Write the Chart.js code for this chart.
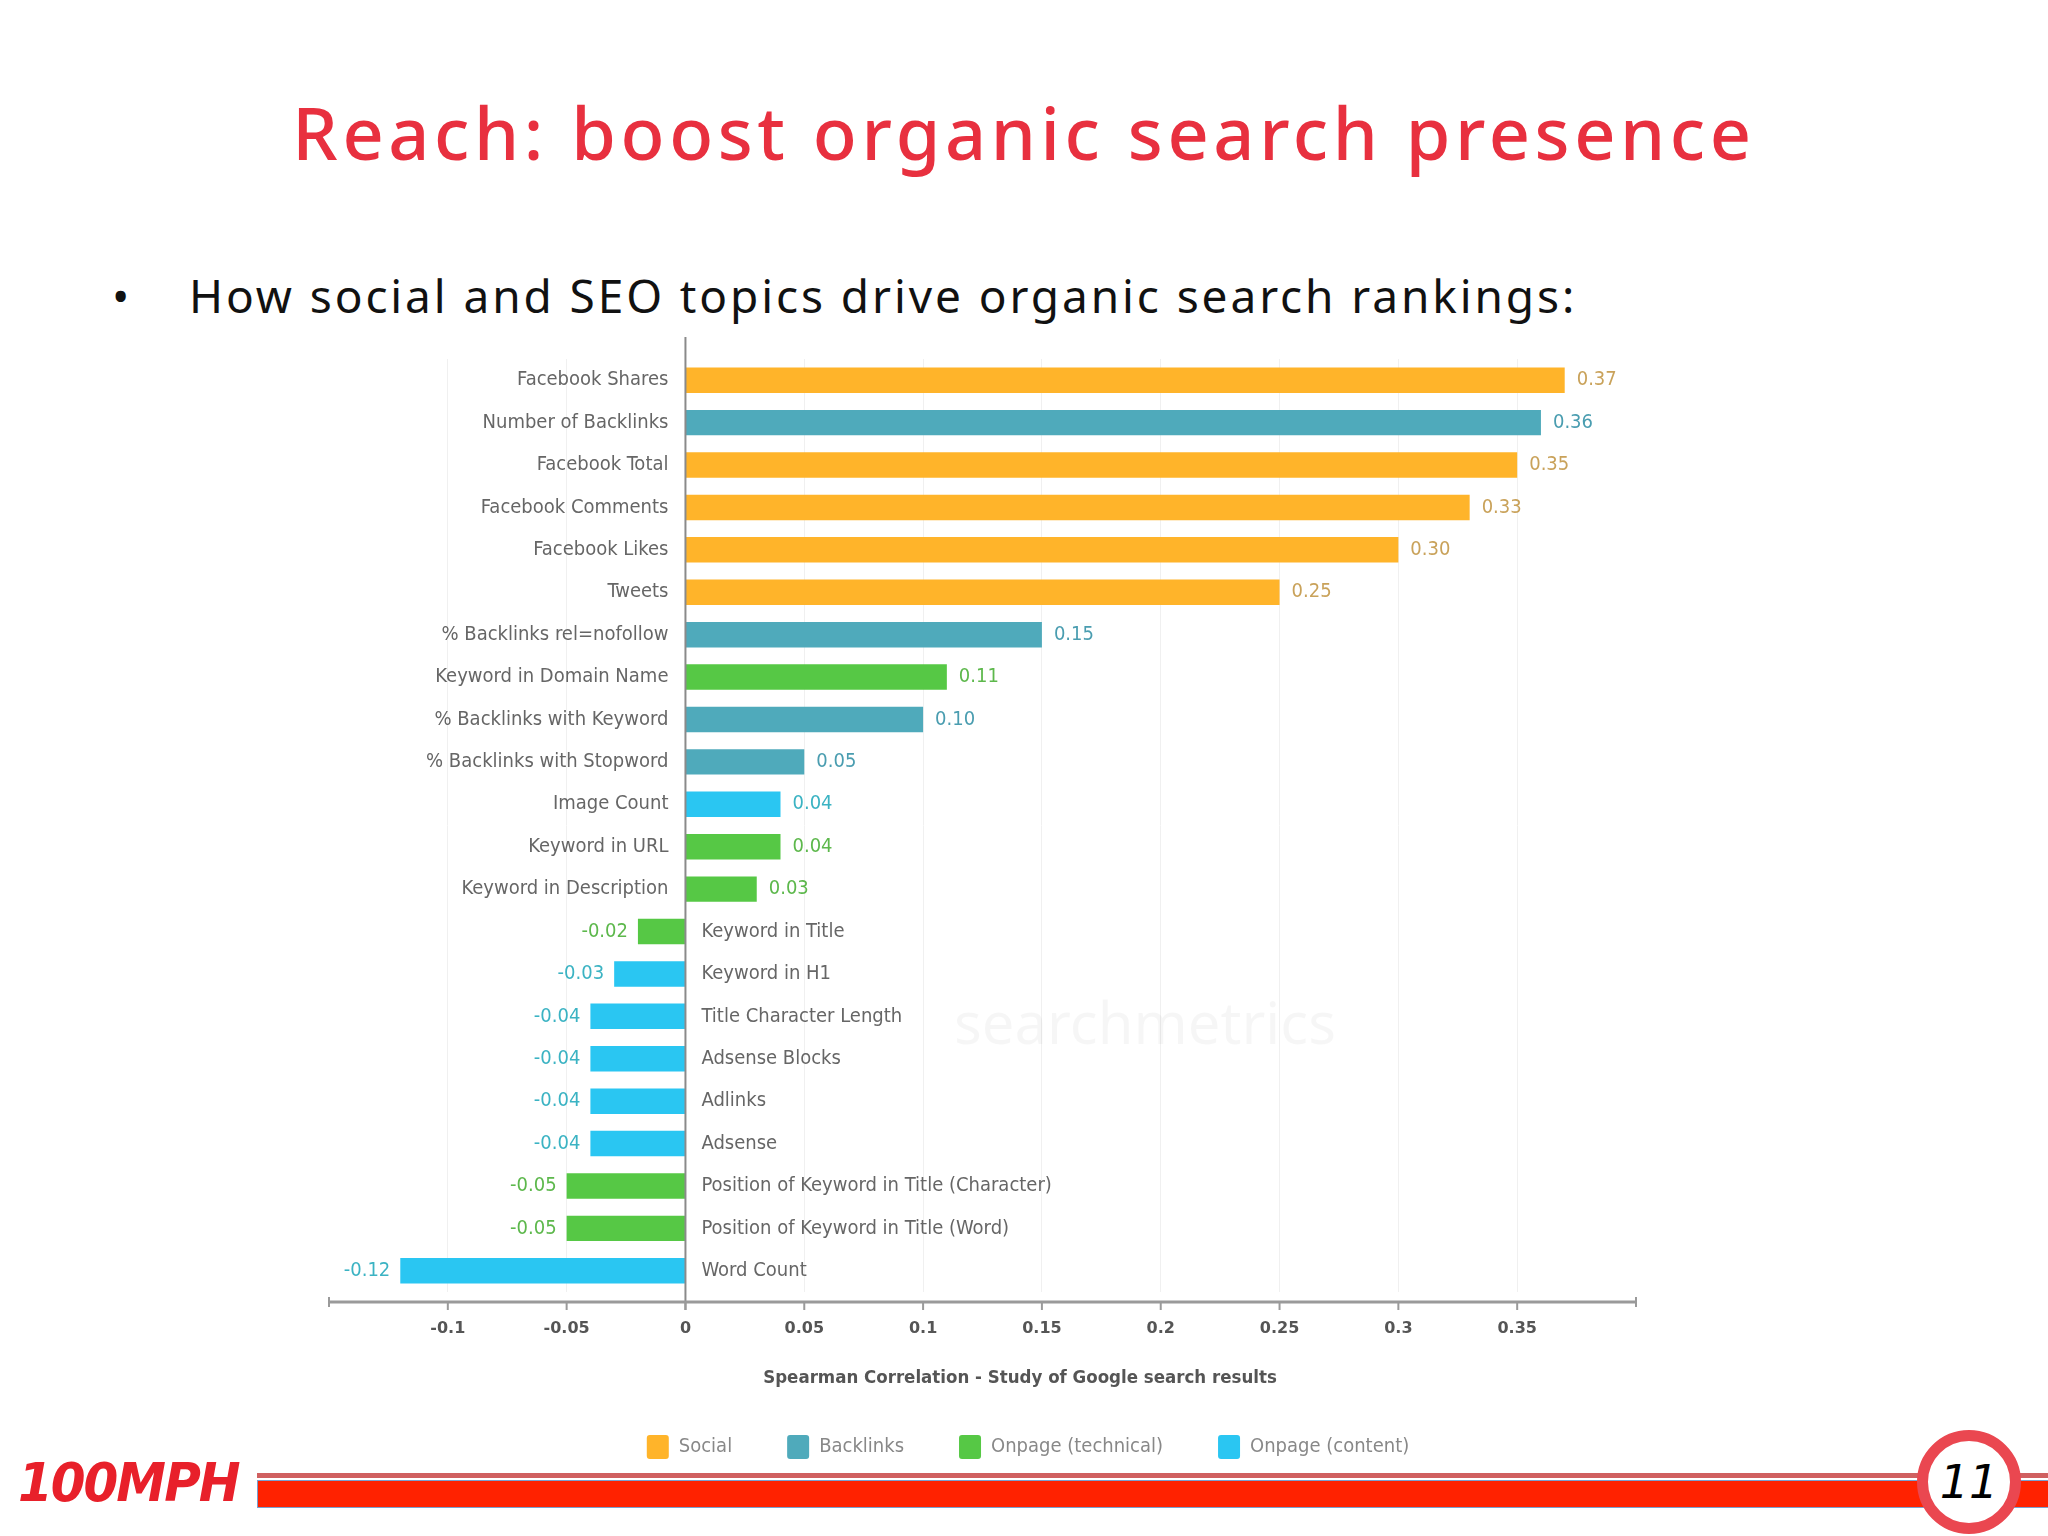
<!DOCTYPE html>
<html>
<head>
<meta charset="utf-8">
<script src="https://cdn.jsdelivr.net/npm/chart.js@4.4.0/dist/chart.umd.min.js"></script>
<style>
  body { margin:0; width:2048px; height:1536px; background:#fff; position:relative; overflow:hidden; font-family:"Noto Sans", sans-serif; }
  #title { position:absolute; left:0; top:96px; width:2048px; text-align:center; color:#E8303F; font-size:72px; line-height:1; font-weight:500; letter-spacing:4.6px; }
  #bullet { position:absolute; left:112px; top:272px; font-size:46px; line-height:1; color:#111; letter-spacing:2.9px; }
  #bullet span { display:inline-block; width:77px; }
  #chartbox { position:absolute; left:0; top:330px; width:2048px; height:1160px; }
  #logo { position:absolute; left:18px; top:1458px; font-family:"DejaVu Sans"; font-weight:bold; font-style:italic; font-size:50px; line-height:1; color:#E8202A; letter-spacing:-2px; transform:scaleY(1.05); }
  #line1 { position:absolute; left:257px; top:1473px; width:1791px; height:5px; background:#D06060; }
  #line2 { position:absolute; left:257px; top:1480px; width:1791px; height:28px; background:#FF2200; border:1px solid #7AA0D0; border-right:none; box-sizing:border-box; }
  #page { position:absolute; left:1917px; top:1430px; width:104px; height:104px; border-radius:50%; background:#fff; border:11px solid #EA4750; box-sizing:border-box; text-align:center; font-family:"DejaVu Sans"; font-style:italic; font-size:46px; line-height:82px; color:#000; }
</style>
</head>
<body>
<div id="title">Reach: boost organic search presence</div>
<div id="bullet"><span>•</span>How social and SEO topics drive organic search rankings:</div>
<div id="chartbox"><canvas id="chart" width="2048" height="1160"></canvas></div>
<div id="logo">100MPH</div>
<div id="line1"></div>
<div id="line2"></div>
<div id="page">11</div>

<script>
  // chart data
  var categories = [
    "Facebook Shares", "Number of Backlinks", "Facebook Total", "Facebook Comments",
    "Facebook Likes", "Tweets", "% Backlinks rel=nofollow", "Keyword in Domain Name",
    "% Backlinks with Keyword", "% Backlinks with Stopword", "Image Count", "Keyword in URL",
    "Keyword in Description", "Keyword in Title", "Keyword in H1", "Title Character Length",
    "Adsense Blocks", "Adlinks", "Adsense", "Position of Keyword in Title (Character)",
    "Position of Keyword in Title (Word)", "Word Count"
  ];
  var values = [0.37, 0.36, 0.35, 0.33, 0.30, 0.25, 0.15, 0.11, 0.10, 0.05, 0.04, 0.04,
                0.03, -0.02, -0.03, -0.04, -0.04, -0.04, -0.04, -0.05, -0.05, -0.12];
  var groups = ["Social", "Backlinks", "Social", "Social", "Social", "Social", "Backlinks",
                "Onpage (technical)", "Backlinks", "Backlinks", "Onpage (content)",
                "Onpage (technical)", "Onpage (technical)", "Onpage (technical)",
                "Onpage (content)", "Onpage (content)", "Onpage (content)", "Onpage (content)",
                "Onpage (content)", "Onpage (technical)", "Onpage (technical)", "Onpage (content)"];
  var seriesNames = ["Social", "Backlinks", "Onpage (technical)", "Onpage (content)"];
  var xMin = -0.15, xMax = 0.4, xStep = 0.05;
  var axisTitle = "Spearman Correlation - Study of Google search results";

  var barColors = ["#FFB42A", "#4FAABB", "#56C845", "#2AC6F2"];
  var textColors = ["#C9A25A", "#4A9DB0", "#5DB84C", "#3BB3C3"];

  var datasets = seriesNames.map(function (name, k) {
    return {
      label: name,
      data: values.map(function (v, i) { return groups[i] === name ? v : null; }),
      backgroundColor: barColors[k],
      borderWidth: 0,
      categoryPercentage: 1,
      barPercentage: 0.6
    };
  });

  var labelFont = '20px "DejaVu Sans Condensed"';

  var barLabels = {
    id: 'barLabels',
    beforeDatasetsDraw: function (chart) {
      var ctx = chart.ctx, area = chart.chartArea;
      ctx.save();
      ctx.font = '58px "Noto Sans"';
      ctx.fillStyle = 'rgba(0,0,0,0.035)';
      ctx.fillText('searchmetrics', area.left + 625, area.top + 668);
      ctx.restore();
    },
    afterDatasetsDraw: function (chart) {
      var ctx = chart.ctx, xs = chart.scales.x, area = chart.chartArea;
      var x0 = xs.getPixelForValue(0);
      var axisY = area.bottom + 10;
      ctx.save();
      // zero line
      ctx.strokeStyle = '#8a8a8a';
      ctx.lineWidth = 2;
      ctx.beginPath(); ctx.moveTo(x0, area.top - 22); ctx.lineTo(x0, axisY + 8); ctx.stroke();
      // axis line with ticks
      ctx.strokeStyle = '#9a9a9a';
      ctx.lineWidth = 3;
      ctx.beginPath(); ctx.moveTo(area.left, axisY); ctx.lineTo(area.right, axisY); ctx.stroke();
      ctx.lineWidth = 2;
      xs.ticks.forEach(function (t, i) {
        var px = xs.getPixelForValue(t.value);
        var end = (i === 0 || i === xs.ticks.length - 1);
        ctx.beginPath(); ctx.moveTo(px, axisY - (end ? 5 : 0)); ctx.lineTo(px, axisY + (end ? 5 : 8)); ctx.stroke();
      });
      // axis title, centred over the legend like the original
      ctx.font = 'bold 18.5px "DejaVu Sans Condensed"';
      ctx.fillStyle = '#555';
      ctx.textAlign = 'center';
      ctx.textBaseline = 'middle';
      ctx.fillText(axisTitle, (chart.legend.left + chart.legend.right) / 2 - 8, area.bottom + 86);
      // category and value labels
      chart.data.datasets.forEach(function (ds, di) {
        var meta = chart.getDatasetMeta(di);
        ds.data.forEach(function (v, i) {
          if (v === null) return;
          var bar = meta.data[i];
          var y = bar.y;
          ctx.font = labelFont;
          ctx.fillStyle = '#666';
          if (v >= 0) {
            ctx.textAlign = 'right';
            ctx.fillText(categories[i], x0 - 17, y);
            ctx.fillStyle = textColors[di];
            ctx.textAlign = 'left';
            ctx.fillText(v.toFixed(2), bar.x + 12, y);
          } else {
            ctx.textAlign = 'left';
            ctx.fillText(categories[i], x0 + 16, y);
            ctx.fillStyle = textColors[di];
            ctx.textAlign = 'right';
            ctx.fillText(v.toFixed(2), bar.x - 10, y);
          }
        });
      });
      ctx.restore();
    }
  };

  new Chart(document.getElementById('chart'), {
    type: 'bar',
    data: { labels: categories, datasets: datasets },
    plugins: [barLabels],
    options: {
      indexAxis: 'y',
      responsive: false,
      animation: false,
      layout: { padding: { top: 29, left: 329, right: 321, bottom: 21 } },
      scales: {
        x: {
          stacked: true,
          min: xMin,
          max: xMax,
          afterFit: function (scale) { scale.height = 88; },
          ticks: {
            stepSize: xStep,
            padding: 27,
            color: '#555',
            font: { family: 'DejaVu Sans', size: 16, weight: 'bold' },
            callback: function (v) {
              if (Math.abs(v - xMin) < 1e-9 || Math.abs(v - xMax) < 1e-9) return '';
              return String(parseFloat(v.toFixed(2)));
            }
          },
          grid: {
            drawTicks: false,
            color: function (c) {
              var v = c.tick ? c.tick.value : 0;
              if (Math.abs(v) < 1e-9 || Math.abs(v - xMin) < 1e-9 || Math.abs(v - xMax) < 1e-9) return 'rgba(0,0,0,0)';
              return '#f0f0f0';
            }
          },
          border: { display: false }
        },
        y: {
          stacked: true,
          position: 'right',
          afterFit: function (scale) { scale.width = 91; },
          ticks: { display: false },
          grid: { display: false },
          border: { display: false }
        }
      },
      plugins: {
        tooltip: { enabled: false },
        legend: {
          position: 'bottom',
          labels: {
            boxWidth: 22,
            boxHeight: 24,
            padding: 55,
            useBorderRadius: true,
            borderRadius: 3,
            color: '#888',
            font: { family: 'DejaVu Sans Condensed', size: 20 }
          }
        }
      }
    }
  });
</script>
</body>
</html>
